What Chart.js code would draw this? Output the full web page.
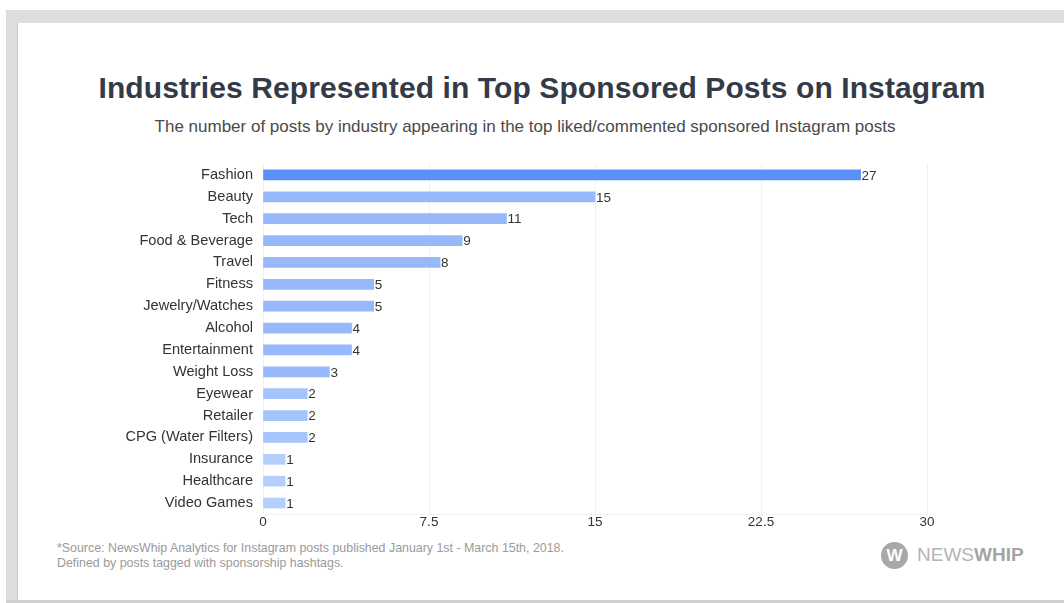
<!DOCTYPE html>
<html>
<head>
<meta charset="utf-8">
<script src="https://cdn.jsdelivr.net/npm/chart.js@4.4.0/dist/chart.umd.min.js"></script>
<style>
  body { margin: 0; background: #fff; font-family: "Liberation Sans", Arial, sans-serif; }
  #page { position: relative; width: 1064px; height: 603px; overflow: hidden; }
  .frame { position: absolute; background: #dcdddf; }
  #title { position: absolute; left: 17px; width: 1050px; top: 71px; text-align: center;
           font-size: 30px; font-weight: bold; color: #333a48; letter-spacing: 0.1px; }
  #subtitle { position: absolute; left: 0px; width: 1050px; top: 117px; text-align: center;
              font-size: 17px; color: #4a4a4a; }
  #note { position: absolute; left: 57px; top: 541px; font-size: 12.4px; line-height: 15px; color: #9a9a9a; }
  #logo { position: absolute; left: 881px; top: 541px; height: 28px; display: flex; align-items: center; }
  #logo .circ { width: 27px; height: 27px; border-radius: 50%; background: #a8a8a8; color: #fff;
                font-weight: bold; font-size: 17px; text-align: center; line-height: 27px; margin-right: 9px; }
  #logo .txt { font-size: 19px; color: #b4b4b4; letter-spacing: 0px; }
  #logo .txt b { color: #a4a4a4; }
  canvas { position: absolute; left: 0; top: 0; }
</style>
</head>
<body>
<div id="page">
  <div class="frame" style="left:6px; top:10px; width:1058px; height:13px;"></div>
  <div class="frame" style="left:6px; top:10px; width:11px; height:593px;"></div>
  <div class="frame" style="left:6px; top:600px; width:1058px; height:3px; background:#cfd0d2;"></div>
  <div class="frame" style="left:17px; top:23px; width:1px; height:577px; background:#c9cacc;"></div>
  <div id="title">Industries Represented in Top Sponsored Posts on Instagram</div>
  <div id="subtitle">The number of posts by industry appearing in the top liked/commented sponsored Instagram posts</div>
  <div id="note">*Source: NewsWhip Analytics for Instagram posts published January 1st - March 15th, 2018.<br>Defined by posts tagged with sponsorship hashtags.</div>
  <div id="logo"><div class="circ">W</div><div class="txt">NEWS<b>WHIP</b></div></div>
  <canvas id="chart" width="1064" height="603"></canvas>
</div>
<script>
var industries = ['Fashion', 'Beauty', 'Tech', 'Food & Beverage', 'Travel', 'Fitness', 'Jewelry/Watches',
  'Alcohol', 'Entertainment', 'Weight Loss', 'Eyewear', 'Retailer', 'CPG (Water Filters)',
  'Insurance', 'Healthcare', 'Video Games'];
var postCounts = [27, 15, 11, 9, 8, 5, 5, 4, 4, 3, 2, 2, 2, 1, 1, 1];
var xTickLabels = ['0', '7.5', '15', '22.5', '30'];

function barColor(v) {
  if (v >= 20) return '#5b8ff9';
  if (v >= 3) return '#97b9fb';
  if (v >= 2) return '#a6c4fc';
  return '#b5cffc';
}

var valueLabels = {
  id: 'valueLabels',
  afterDatasetsDraw: function(chart) {
    var ctx = chart.ctx;
    var meta = chart.getDatasetMeta(0);
    ctx.save();
    ctx.font = '13.5px "Liberation Sans", Arial, sans-serif';
    ctx.fillStyle = '#333';
    ctx.textBaseline = 'middle';
    meta.data.forEach(function(bar, i) {
      ctx.fillText(postCounts[i], bar.x + 1, bar.y + 1);
    });
    ctx.restore();
  }
};

new Chart(document.getElementById('chart'), {
  type: 'bar',
  data: {
    labels: industries,
    datasets: [{
      data: postCounts,
      backgroundColor: postCounts.map(barColor),
      barThickness: 10,
      borderWidth: 0
    }]
  },
  options: {
    indexAxis: 'y',
    responsive: false,
    animation: false,
    layout: { padding: { top: 164, right: 137, bottom: 59, left: 0 } },
    plugins: { legend: { display: false }, tooltip: { enabled: false } },
    scales: {
      x: {
        min: 0, max: 30,
        afterFit: function(s) { s.height = 30; },
        afterBuildTicks: function(s) {
          s.ticks = xTickLabels.map(function(t) { return { value: parseFloat(t) }; });
        },
        ticks: {
          padding: 0,
          color: '#333',
          font: { size: 13.5, family: '"Liberation Sans", Arial, sans-serif' },
          callback: function(v, i) { return xTickLabels[i]; },
          maxRotation: 0
        },
        grid: { color: '#f1f1f1', drawTicks: false },
        border: { color: '#f1f1f1' }
      },
      y: {
        afterFit: function(s) { s.width = 263; },
        ticks: {
          padding: 10,
          color: '#333',
          font: { size: 14.6, family: '"Liberation Sans", Arial, sans-serif' }
        },
        grid: { display: false, drawTicks: false },
        border: { display: false }
      }
    }
  },
  plugins: [valueLabels]
});
</script>
</body>
</html>
